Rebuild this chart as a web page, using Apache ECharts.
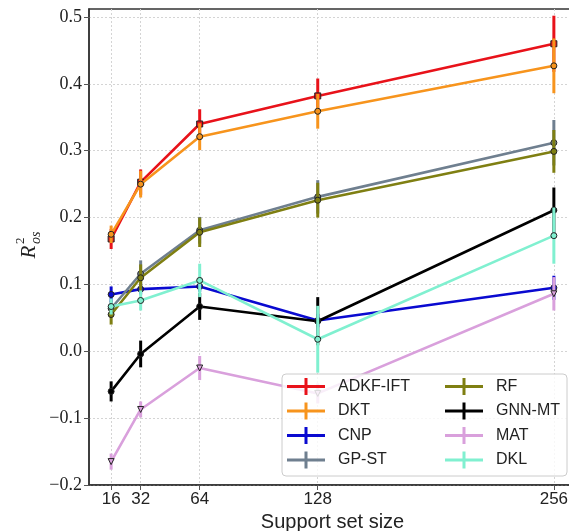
<!DOCTYPE html>
<html>
<head>
<meta charset="utf-8">
<script src="https://cdn.jsdelivr.net/npm/echarts@6/dist/echarts.min.js"></script>
<style>html,body{margin:0;padding:0;background:#fff}#c{width:569px;height:531px}</style>
</head>
<body>
<div id="c"></div>
<script>
// Support set sizes (x values / tick labels)
const supportSizes = [16, 32, 64, 128, 256];
const yTicks = [-0.2, -0.1, 0.0, 0.1, 0.2, 0.3, 0.4, 0.5];

// Mean R^2_os per method
const adkfIft = [0.168, 0.253, 0.340, 0.382, 0.460];
const dkt     = [0.175, 0.250, 0.321, 0.359, 0.427];
const cnp     = [0.085, 0.093, 0.097, 0.046, 0.095];
const gpSt    = [0.064, 0.116, 0.181, 0.231, 0.312];
const rf      = [0.055, 0.110, 0.178, 0.226, 0.299];
const gnnMt   = [-0.060, -0.004, 0.067, 0.045, 0.211];
const mat     = [-0.165, -0.087, -0.025, -0.063, 0.086];
const dkl     = [0.067, 0.076, 0.106, 0.018, 0.173];

// Error bar half-widths per method
const adkfIftErr = [0.015, 0.019, 0.022, 0.026, 0.042];
const dktErr     = [0.013, 0.020, 0.020, 0.026, 0.041];
const cnpErr     = [0.012, 0.008, 0.008, 0.010, 0.018];
const gpStErr    = [0.012, 0.020, 0.020, 0.025, 0.034];
const rfErr      = [0.015, 0.020, 0.022, 0.026, 0.032];
const gnnMtErr   = [0.015, 0.020, 0.020, 0.036, 0.034];
const matErr     = [0.012, 0.012, 0.018, 0.015, 0.025];
const dklErr     = [0.012, 0.015, 0.025, 0.050, 0.042];

const methods = [
  {name: 'ADKF-IFT', vals: adkfIft, err: adkfIftErr, color: '#e8121a', symbol: 'rect'},
  {name: 'DKT',      vals: dkt,     err: dktErr,     color: '#f7941d', symbol: 'circle'},
  {name: 'CNP',      vals: cnp,     err: cnpErr,     color: '#0a0ad0', symbol: 'circle'},
  {name: 'GP-ST',    vals: gpSt,    err: gpStErr,    color: '#6f7f8f', symbol: 'circle'},
  {name: 'RF',       vals: rf,      err: rfErr,      color: '#7f7f12', symbol: 'circle'},
  {name: 'GNN-MT',   vals: gnnMt,   err: gnnMtErr,   color: '#000000', symbol: 'circle'},
  {name: 'MAT',      vals: mat,     err: matErr,     color: '#d9a0dc', symbol: 'path://M0,0 L10,0 L5,9 Z'},
  {name: 'DKL',      vals: dkl,     err: dklErr,     color: '#80f0d0', symbol: 'circle'}
];

const legendIcon = 'path://M0,7 L38,7 L38,10 L0,10 Z M17.5,0 L20.5,0 L20.5,17 L17.5,17 Z';

const series = [];
methods.forEach((m, i) => {
  const lineData = supportSizes.map((x, j) => [x, m.vals[j]]);
  const errData = supportSizes.map((x, j) => [x, m.vals[j] - m.err[j], m.vals[j] + m.err[j]]);
  series.push({
    name: m.name + ' err',
    type: 'custom',
    z: 3 + i * 2,
    silent: true,
    data: errData,
    renderItem: function (params, api) {
      const p1 = api.coord([api.value(0), api.value(1)]);
      const p2 = api.coord([api.value(0), api.value(2)]);
      return {type: 'line', shape: {x1: p1[0], y1: p1[1], x2: p2[0], y2: p2[1]},
              style: {stroke: m.color, lineWidth: 3}};
    }
  });
  series.push({
    name: m.name,
    type: 'line',
    z: 4 + i * 2,
    data: lineData,
    symbol: m.symbol,
    symbolSize: 6,
    showAllSymbol: true,
    lineStyle: {color: m.color, width: 2.6},
    itemStyle: {color: m.color, borderColor: '#222', borderWidth: 1},
    emphasis: {disabled: true},
    animation: false
  });
});

const legendCommon = {
  orient: 'vertical', top: 378, itemWidth: 38, itemHeight: 17, itemGap: 7.5, padding: 0,
  icon: legendIcon, selectedMode: false, z: 30,
  itemStyle: {borderWidth: 0},
  textStyle: {fontFamily: 'Liberation Sans', fontSize: 16, color: '#222', padding: [0, 0, 0, 8]}
};

const option = {
  animation: false,
  grid: {left: 89, top: 9, right: -7, bottom: 46, outerBoundsMode: 'none', containLabel: false,
         show: true, borderColor: '#333', borderWidth: 1.5, backgroundColor: 'transparent'},
  xAxis: {
    type: 'value', min: 4, max: 268,
    name: 'Support set size', nameLocation: 'middle', nameGap: 21,
    nameTextStyle: {fontFamily: 'Liberation Sans', fontSize: 20, color: '#222'},
    axisLine: {show: true, onZero: false, lineStyle: {color: '#333', width: 1.5}},
    axisTick: {show: true, inside: false, length: 5, customValues: supportSizes, lineStyle: {color: '#555'}},
    axisLabel: {customValues: supportSizes, fontFamily: 'Liberation Sans', fontSize: 17, color: '#222', margin: 6},
    splitLine: {show: true, lineStyle: {color: '#d4d4d4', type: [2, 2], width: 1}}
  },
  yAxis: {
    type: 'value', min: -0.2, max: 0.512,
    axisLine: {show: true, onZero: false, lineStyle: {color: '#333', width: 1.5}},
    axisTick: {show: true, inside: false, length: 5, customValues: yTicks, lineStyle: {color: '#555'}},
    axisLabel: {customValues: yTicks, fontFamily: 'Liberation Serif', fontSize: 18, color: '#222', margin: 7,
      formatter: v => v.toFixed(1).replace('-', '\u2212')},
    splitLine: {show: true, lineStyle: {color: '#d4d4d4', type: [2, 2], width: 1}}
  },
  legend: [
    Object.assign({data: ['ADKF-IFT', 'DKT', 'CNP', 'GP-ST'], left: 287}, legendCommon),
    Object.assign({data: ['RF', 'GNN-MT', 'MAT', 'DKL'], left: 445}, legendCommon)
  ],
  graphic: [
    {type: 'rect', z: 25, shape: {x: 282, y: 374, width: 285, height: 102, r: 4},
     style: {fill: 'rgba(255,255,255,0.82)', stroke: '#cccccc', lineWidth: 1}},
    {type: 'group', x: 29, y: 252, rotation: Math.PI / 2, z: 20, children: [
      {type: 'text', style: {text: 'R', x: 0, y: 0, font: 'italic 21px "Liberation Serif"', fill: '#222', align: 'center', verticalAlign: 'middle'}},
      {type: 'text', style: {text: '2', x: 8, y: -8, font: '13px "Liberation Serif"', fill: '#222', align: 'left', verticalAlign: 'middle'}},
      {type: 'text', style: {text: 'os', x: 8, y: 7, font: 'italic 14px "Liberation Serif"', fill: '#222', align: 'left', verticalAlign: 'middle'}}
    ]}
  ],
  series: series
};

const chart = echarts.init(document.getElementById('c'), null, {renderer: 'canvas'});
chart.setOption(option);
</script>
</body>
</html>
